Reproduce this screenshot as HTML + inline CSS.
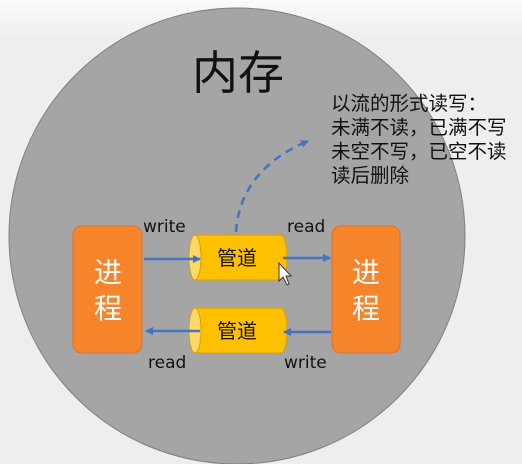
<!DOCTYPE html>
<html><head><meta charset="utf-8"><style>
body{margin:0;width:522px;height:464px;overflow:hidden;background:linear-gradient(#fbfbfb,#eeeeee 40px,#eeeeee);}
</style></head><body>
<svg width="522" height="464" xmlns="http://www.w3.org/2000/svg" style="position:absolute;left:0;top:0">
<defs><marker id="a" markerWidth="8" markerHeight="8" refX="7" refY="4" orient="auto" markerUnits="userSpaceOnUse"><path d="M0,0 L8,4 L0,8z" fill="#4472c4"/></marker></defs>
<circle cx="237" cy="236" r="228" fill="#a5a5a5" stroke="#7f7f7f" stroke-width="1"/>
<text x="238" y="89" font-size="46" text-anchor="middle" font-family="Liberation Sans,Noto Sans CJK SC,sans-serif" fill="#111">内存</text>
<g font-family="Liberation Sans,Noto Sans CJK SC,sans-serif" font-size="19.5" fill="#111">
<text x="331" y="110">以流的形式读写：</text>
<text x="331" y="134">未满不读，已满不写</text>
<text x="331" y="158">未空不写，已空不读</text>
<text x="331" y="182">读后删除</text>
</g>
<path d="M236,232 Q240,170 308,141" fill="none" stroke="#4472c4" stroke-width="2.5" stroke-dasharray="8,6" marker-end="url(#a)"/>
<rect x="73" y="226" width="69" height="127" rx="9" fill="#f5842a" stroke="#e07020"/>
<rect x="332" y="226" width="68" height="127" rx="9" fill="#f5842a" stroke="#e07020"/>
<g font-family="Liberation Sans,Noto Sans CJK SC,sans-serif" font-size="28" fill="#fff" text-anchor="middle">
<text x="108" y="282">进</text><text x="108" y="318">程</text>
<text x="366" y="282">进</text><text x="366" y="318">程</text>
</g>
<g stroke="#d9a000" stroke-width="1">
<rect x="195" y="235" width="86" height="45" fill="#ffc000"/>
<ellipse cx="195" cy="257.5" rx="6" ry="22.5" fill="#ffd966"/>
<ellipse cx="281" cy="257.5" rx="6" ry="22.5" fill="#ffc000"/>
<rect x="195" y="308" width="86" height="45" fill="#ffc000"/>
<ellipse cx="195" cy="330.5" rx="6" ry="22.5" fill="#ffd966"/>
<ellipse cx="281" cy="330.5" rx="6" ry="22.5" fill="#ffc000"/>
</g>
<rect x="270" y="236" width="10" height="43" fill="#ffc000"/>
<rect x="270" y="309" width="10" height="43" fill="#ffc000"/>
<g font-family="Liberation Sans,Noto Sans CJK SC,sans-serif" font-size="20" fill="#111" text-anchor="middle">
<text x="237" y="265">管道</text><text x="237" y="338">管道</text>
</g>
<g stroke="#4472c4" stroke-width="2.5">
<line x1="144" y1="259" x2="200" y2="259" marker-end="url(#a)"/>
<line x1="283" y1="258" x2="330" y2="258" marker-end="url(#a)"/>
<line x1="331" y1="332" x2="284" y2="332" marker-end="url(#a)"/>
<line x1="200" y1="331" x2="146" y2="331" marker-end="url(#a)"/>
</g>
<g font-family="DejaVu Sans,Liberation Sans,sans-serif" font-size="17" fill="#111">
<text x="143" y="232">write</text><text x="287" y="232">read</text>
<text x="148" y="368">read</text><text x="284" y="368">write</text>
</g>
<path d="M279,263 L279,281 L283,277 L287,285 L289,284 L286,276 L291,276 Z" fill="#fff" stroke="#333" stroke-width="1"/>
</svg>
</body></html>
